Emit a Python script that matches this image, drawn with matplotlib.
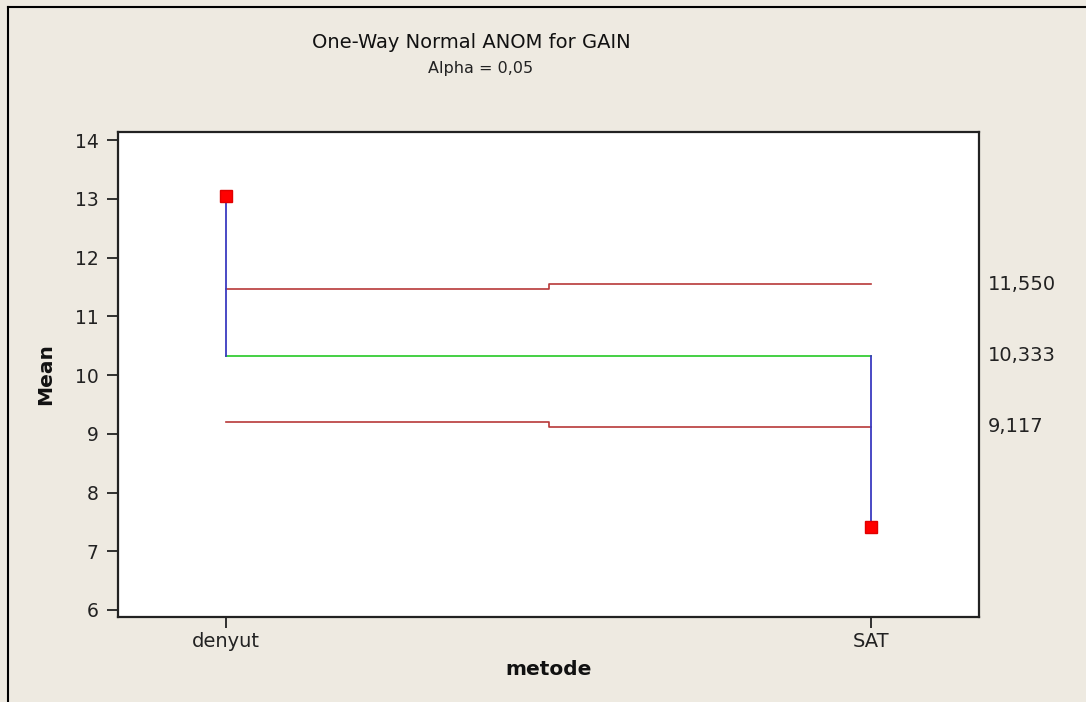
import matplotlib
matplotlib.use("Agg")
import matplotlib.pyplot as plt
from matplotlib.lines import Line2D

# Data
categories = ["denyut", "SAT"]
means = [13.05, 7.42]
center = 10.333
udl = [11.466, 11.550]
ldl = [9.200, 9.117]
limit_labels = ["11,550", "10,333", "9,117"]
yticks = [6, 7, 8, 9, 10, 11, 12, 13, 14]

bg = "#EEEAE1"
fig = plt.figure(figsize=(10.86, 7.02), dpi=100, facecolor=bg)
ax = fig.add_axes([118/1086, 1-617/702, (979-118)/1086, (617-132)/702])
ax.set_facecolor("white")

x = [1, 2]
xs = [1, 1.5, 1.5, 2]
ax.plot(xs, [udl[0], udl[0], udl[1], udl[1]], color="#B83838", lw=1.2, zorder=2)
ax.plot(xs, [ldl[0], ldl[0], ldl[1], ldl[1]], color="#B83838", lw=1.2, zorder=2)
ax.plot(x, [center, center], color="#44D044", lw=1.4, zorder=2)
for xi, m in zip(x, means):
    ax.plot([xi, xi], [center, m], color="#3A3AC0", lw=1.3, zorder=3)
ax.plot(x, means, linestyle="none", marker="s", markersize=9,
        color="#FF0000", markeredgecolor="#E00000", zorder=4)

ax.set_xlim(0.833, 2.167)
ax.set_ylim(5.88, 14.14)
ax.set_xticks(x)
ax.set_xticklabels(categories, fontsize=14, color="#222222")
ax.set_yticks(yticks)
ax.set_yticklabels([str(t) for t in yticks], fontsize=13.5, color="#222222")
ax.tick_params(axis="both", direction="out", length=8, width=1.3, color="#222222")
ax.tick_params(axis="y", pad=6)
ax.tick_params(axis="x", pad=3)
for s in ax.spines.values():
    s.set_linewidth(1.6)
    s.set_color("#222222")

ax.set_xlabel("metode", fontsize=14.5, fontweight="bold", labelpad=6, color="#111111")
ax.set_ylabel("Mean", fontsize=14.5, fontweight="bold", labelpad=14, color="#111111")

for val, lab in zip([udl[1], center, ldl[1]], limit_labels):
    ax.text(1.0105, val, lab, transform=ax.get_yaxis_transform(),
            fontsize=14, va="center", ha="left", color="#222222")

fig.text(471/1086, 1-42/702, "One-Way Normal ANOM for GAIN", fontsize=14,
         ha="center", va="center", color="#111111")
fig.text(481/1086, 1-69/702, "Alpha = 0,05", fontsize=11.5,
         ha="center", va="center", color="#222222")

# figure border (top and left)
fig.add_artist(Line2D([8/1086, 8/1086], [0, 1-7/702], transform=fig.transFigure,
                      color="black", lw=1.5))
fig.add_artist(Line2D([8/1086, 1], [1-7/702, 1-7/702], transform=fig.transFigure,
                      color="black", lw=1.5))

fig.savefig("out.png", dpi=100, facecolor=bg)
